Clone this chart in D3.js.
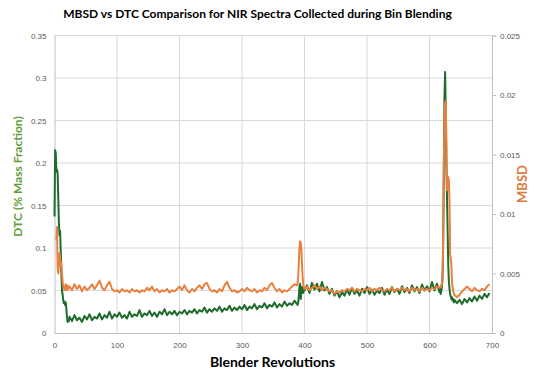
<!DOCTYPE html>
<html>
<head>
<meta charset="utf-8">
<script src="https://cdn.jsdelivr.net/npm/d3@7"></script>
<style>
  body { margin: 0; background: #fff; }
  svg { display: block; }
  .tick text { font-family: "Liberation Sans", Arial, sans-serif; font-size: 8px; fill: #595959; }
  .ttl { font-family: Lato, "Open Sans", sans-serif; font-weight: bold; }
</style>
</head>
<body>
<div id="chart"></div>
<script>
// blender revolutions at which the spectra were taken
var revolutions = [
  0,1,2,3,4,5,6,7,8,9,10,11,12,13,14,15,16,17,18,19,20,21,22,23,
  24,28,32,36,40,44,48,52,56,60,64,68,72,76,80,84,88,92,96,100,
  104,108,112,116,120,124,128,132,136,140,144,148,152,156,160,164,168,172,176,180,
  184,188,192,196,200,204,208,212,216,220,224,228,232,236,240,244,248,252,256,260,
  264,268,272,276,280,284,288,292,296,300,304,308,312,316,320,324,328,332,336,340,
  344,348,352,356,360,364,368,372,376,380,384,388,
  389,390,391,392,393,394,395,396,397,398,399,
  400,404,408,412,416,420,424,428,432,436,440,444,448,452,456,460,464,468,472,476,
  480,484,488,492,496,500,504,508,512,516,520,524,528,532,536,540,544,548,552,556,
  560,564,568,572,576,580,584,588,592,596,600,604,608,612,616,
  617,618,619,620,621,622,623,624,625,626,627,628,629,630,631,632,633,634,635,636,637,638,639,640,
  644,648,652,656,660,664,668,672,676,680,684,688,692,696
];

// DTC, % mass fraction (left axis)
var dtc = [
  0.137,0.215,0.212,0.19,0.192,0.188,0.16,0.13,0.115,0.12,0.095,0.07,0.05,0.045,0.038,0.035,0.037,0.033,0.036,0.028,0.018,0.013,0.016,0.014,
  0.019,0.014,0.021,0.015,0.018,0.013,0.020,0.016,0.022,0.015,0.019,0.017,0.023,0.016,0.021,0.018,0.025,0.017,0.022,0.019,
  0.024,0.018,0.021,0.017,0.025,0.019,0.022,0.020,0.027,0.019,0.023,0.021,0.026,0.020,0.024,0.019,0.025,0.022,0.028,0.021,
  0.025,0.022,0.026,0.021,0.025,0.023,0.027,0.022,0.026,0.024,0.028,0.023,0.027,0.025,0.030,0.024,0.028,0.025,0.029,0.026,
  0.031,0.025,0.029,0.027,0.032,0.026,0.030,0.027,0.031,0.028,0.033,0.027,0.031,0.029,0.034,0.028,0.032,0.030,0.035,0.029,
  0.033,0.031,0.036,0.030,0.034,0.031,0.037,0.032,0.035,0.033,0.038,0.034,
  0.033,0.036,0.045,0.055,0.058,0.040,0.049,0.054,0.050,0.047,0.052,
  0.050,0.056,0.047,0.059,0.051,0.058,0.049,0.060,0.050,0.054,0.046,0.052,0.044,0.049,0.042,0.048,0.044,0.051,0.045,0.053,
  0.046,0.050,0.044,0.052,0.047,0.054,0.046,0.051,0.045,0.050,0.047,0.053,0.045,0.051,0.046,0.054,0.048,0.052,0.046,0.055,
  0.048,0.053,0.047,0.056,0.049,0.054,0.047,0.057,0.050,0.055,0.049,0.060,0.050,0.058,0.048,
  0.052,0.046,0.050,0.055,0.070,0.110,0.200,0.280,0.307,0.260,0.200,0.160,0.120,0.080,0.060,0.052,0.046,0.043,0.040,0.042,0.038,0.040,0.036,0.039,
  0.035,0.039,0.034,0.040,0.036,0.041,0.037,0.043,0.038,0.044,0.040,0.046,0.042,0.047
];

// MBSD (right axis)
var mbsd = [
  null,null,null,0.0078,0.0089,0.0055,0.0050,0.0060,0.0067,0.0062,0.0056,0.0059,0.0050,0.0043,0.0040,0.0038,0.0036,0.0039,0.0041,0.0038,0.0036,0.0040,0.0037,0.0039,
  0.0039,0.0036,0.0041,0.0037,0.0040,0.0035,0.0039,0.0036,0.0038,0.0041,0.0037,0.0040,0.0044,0.0038,0.0036,0.0040,0.0043,0.0037,0.0035,0.0036,
  0.0034,0.0037,0.0035,0.0036,0.0034,0.0037,0.0035,0.0036,0.0034,0.0036,0.0035,0.0038,0.0036,0.0039,0.0035,0.0037,0.0034,0.0036,0.0035,0.0037,
  0.0034,0.0036,0.0035,0.0037,0.0039,0.0036,0.0040,0.0036,0.0034,0.0037,0.0035,0.0038,0.0040,0.0037,0.0041,0.0042,0.0037,0.0035,0.0036,0.0034,
  0.0037,0.0035,0.0040,0.0043,0.0038,0.0035,0.0036,0.0034,0.0035,0.0037,0.0035,0.0038,0.0036,0.0035,0.0037,0.0034,0.0036,0.0035,0.0038,0.0036,
  0.0040,0.0042,0.0038,0.0035,0.0037,0.0034,0.0036,0.0035,0.0037,0.0039,0.0041,0.0040,
  0.0042,0.0048,0.0060,0.0072,0.0077,0.0076,0.0070,0.0058,0.0047,0.0041,0.0038,
  0.0037,0.0039,0.0036,0.0038,0.0040,0.0037,0.0039,0.0036,0.0038,0.0037,0.0035,0.0036,0.0033,0.0035,0.0034,0.0036,0.0035,0.0037,0.0036,0.0038,
  0.0035,0.0037,0.0036,0.0035,0.0037,0.0036,0.0038,0.0035,0.0037,0.0036,0.0038,0.0036,0.0035,0.0037,0.0036,0.0038,0.0035,0.0037,0.0036,0.0038,
  0.0036,0.0037,0.0035,0.0038,0.0036,0.0037,0.0035,0.0038,0.0036,0.0037,0.0036,0.0038,0.0037,0.0039,0.0038,
  0.0038,0.0040,0.0039,0.0042,0.0045,0.0090,0.0145,0.0180,0.0193,0.0195,0.0160,0.0120,0.0125,0.0131,0.0128,0.0110,0.0066,0.0062,0.0058,0.0042,0.0038,0.0035,0.0033,0.0032,
  0.0030,0.0032,0.0035,0.0037,0.0039,0.0037,0.0035,0.0038,0.0036,0.0035,0.0037,0.0036,0.0039,0.0041
];

var leftTicks = [0, 0.05, 0.1, 0.15, 0.2, 0.25, 0.3, 0.35];
var rightTicks = [0, 0.005, 0.01, 0.015, 0.02, 0.025];
var xTicks = [0, 100, 200, 300, 400, 500, 600, 700];

var width = 550, height = 381;
var margin = { top: 35.5, right: 58, bottom: 48, left: 54.5 };

var svg = d3.select('#chart').append('svg')
            .attr('width', width)
            .attr('height', height);

var x = d3.scaleLinear().domain([0, 700]).range([margin.left, width - margin.right]);
var yL = d3.scaleLinear().domain([0, 0.35]).range([height - margin.bottom, margin.top]);
var yR = d3.scaleLinear().domain([0, 0.025]).range([height - margin.bottom, margin.top]);

// gridlines
svg.append('g')
   .selectAll('line.h')
   .data(leftTicks.slice(1))
   .enter().append('line')
   .attr('x1', x(0)).attr('x2', x(700))
   .attr('y1', function (d) { return yL(d); })
   .attr('y2', function (d) { return yL(d); })
   .attr('stroke', '#d9d9d9').attr('stroke-width', 1);

svg.append('g')
   .selectAll('line.v')
   .data(xTicks.slice(1, -1))
   .enter().append('line')
   .attr('y1', yL(0)).attr('y2', yL(0.35))
   .attr('x1', function (d) { return x(d); })
   .attr('x2', function (d) { return x(d); })
   .attr('stroke', '#d9d9d9').attr('stroke-width', 1);

// axes
var fmt = function (d) { return d === 0 ? '0' : String(+d.toFixed(3)); };

var gL = svg.append('g')
            .attr('transform', `translate(${x(0)},0)`)
            .call(d3.axisLeft(yL).tickValues(leftTicks).tickFormat(fmt).tickSize(0).tickPadding(8));
var gR = svg.append('g')
            .attr('transform', `translate(${x(700)},0)`)
            .call(d3.axisRight(yR).tickValues(rightTicks).tickFormat(fmt).tickSize(4).tickPadding(4));
var gB = svg.append('g')
            .attr('transform', `translate(0,${yL(0)})`)
            .call(d3.axisBottom(x).tickValues(xTicks).tickFormat(d3.format('d')).tickSize(0).tickPadding(9));

[gL, gR, gB].forEach(function (g) {
  g.select('.domain').attr('stroke', '#bfbfbf');
  g.selectAll('.tick line').attr('stroke', '#bfbfbf');
  g.selectAll('.tick text').attr('font-family', null).attr('font-size', null);
});

// series
var pts = revolutions.map(function (r, i) { return { r: r, dtc: dtc[i], mbsd: mbsd[i] }; });

var lineL = d3.line()
              .x(function (d) { return x(d.r); })
              .y(function (d) { return yL(d.dtc); });
var lineR = d3.line()
              .defined(function (d) { return d.mbsd != null; })
              .x(function (d) { return x(d.r); })
              .y(function (d) { return yR(d.mbsd); });

svg.append('path').datum(pts)
   .attr('d', lineL)
   .attr('fill', 'none')
   .attr('stroke', '#1e6b2c')
   .attr('stroke-width', 2)
   .attr('stroke-linejoin', 'round');

svg.append('path').datum(pts)
   .attr('d', lineR)
   .attr('fill', 'none')
   .attr('stroke', '#e8803f')
   .attr('stroke-width', 2)
   .attr('stroke-linejoin', 'round');

// titles
svg.append('text').attr('class', 'ttl')
   .attr('x', 257.5).attr('y', 18)
   .attr('text-anchor', 'middle')
   .attr('font-size', 12).attr('fill', '#000')
   .text('MBSD vs DTC Comparison for NIR Spectra Collected during Bin Blending');

svg.append('text').attr('class', 'ttl')
   .attr('x', 272.5).attr('y', 367)
   .attr('text-anchor', 'middle')
   .attr('font-size', 14).attr('fill', '#000')
   .text('Blender Revolutions');

svg.append('text').attr('class', 'ttl')
   .attr('transform', 'translate(22,176.5) rotate(-90)')
   .attr('text-anchor', 'middle')
   .attr('font-size', 12).attr('fill', '#5e9e36')
   .text('DTC (% Mass Fraction)');

svg.append('text').attr('class', 'ttl')
   .attr('transform', 'translate(527,184) rotate(-90)')
   .attr('text-anchor', 'middle')
   .attr('font-size', 13).attr('fill', '#e07b3c')
   .text('MBSD');
</script>
</body>
</html>
